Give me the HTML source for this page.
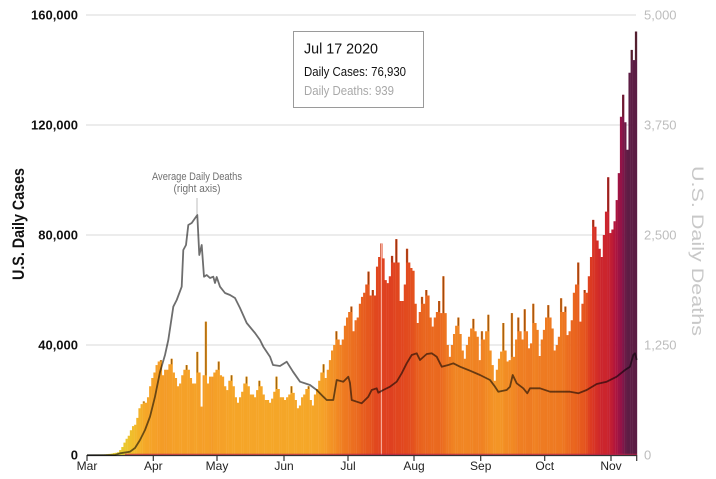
<!DOCTYPE html>
<html><head><meta charset="utf-8">
<style>
html,body{margin:0;padding:0;background:#fff;}
svg{display:block;}
text{font-family:"Liberation Sans Narrow","Liberation Sans",Arial,sans-serif;}
</style></head><body>
<svg id="c" width="716" height="479" viewBox="0 0 716 479" xmlns="http://www.w3.org/2000/svg">
<g stroke="#e6e6e6" stroke-width="1.5">
<line x1="86" y1="15" x2="636" y2="15"/>
<line x1="86" y1="125" x2="636" y2="125"/>
<line x1="86" y1="235" x2="636" y2="235"/>
<line x1="86" y1="345" x2="636" y2="345"/>
</g>
<g id="bars"></g>
<g id="ov"></g>
<line x1="87" y1="455.5" x2="637" y2="455.5" stroke="#333" stroke-width="1.2"/>
<line x1="125" y1="454.3" x2="637" y2="454.3" stroke="#b8254a" stroke-width="1.2" opacity="0.8"/>
<g stroke="#333" stroke-width="1.2">
<line x1="87" y1="455" x2="87" y2="461"/>
<line x1="153.3" y1="455" x2="153.3" y2="461"/>
<line x1="217" y1="455" x2="217" y2="461"/>
<line x1="284" y1="455" x2="284" y2="461"/>
<line x1="348" y1="455" x2="348" y2="461"/>
<line x1="414" y1="455" x2="414" y2="461"/>
<line x1="480.7" y1="455" x2="480.7" y2="461"/>
<line x1="544.7" y1="455" x2="544.7" y2="461"/>
<line x1="611" y1="455" x2="611" y2="461"/>
<line x1="636.7" y1="455" x2="636.7" y2="461"/>
</g>
<polyline style="mix-blend-mode:multiply" fill="none" stroke="#6e6e6e" stroke-width="1.8" stroke-linejoin="round" points="87,455 115,455 120,453.3 130,451.7 135,448 140,440 145,430 150,416.7 155,396.7 160,372 165,355 168.3,340 173.3,306.7 176.7,300 181.7,286.7 183.3,250 186,245 188.3,225 191.7,223 197.3,215 199.3,255 201.7,245 204,276.7 206.7,275 210,278 213.3,276.7 215,283 216.7,277 220,286.7 225,293 230,295 235,298 240,308 246.7,323 255,333 260,340 263.3,346.7 270,356.7 273,365 280,366 286.7,361.7 293,371.7 300,381.7 310,385 316.7,390 323.3,396.7 326.7,400 333.3,400 336.7,380 343.3,381.7 348.3,376.7 350,383 351.7,400 356.7,401.7 361.7,403.3 368.3,396.7 371.7,390 376.7,388.3 378.3,392.7 383.3,390 390,386.7 396.7,381.7 401.7,373.3 406.7,363.3 411.7,355 416.7,353.3 420,360 426.7,354 431.7,353.3 436.7,356.7 441.7,366.7 448.3,365 453.3,363.3 460,366.7 470,370.7 480,375 490,380 495,386.7 498.3,391.7 506.7,390 510,386.7 512.7,375 516.7,383.3 523.3,388.3 527.3,393.3 530,388.3 540,388.3 550,391.7 560,391.7 570,391.7 578.3,393.3 586.7,390 596.7,384 606.7,381.7 616.7,376.7 625,370 630,366.7 633.3,355 635,353.3 636.7,360"/>
<g font-size="13" font-weight="bold" fill="#111" text-anchor="end">
<text x="78" y="19.5">160,000</text>
<text x="78" y="129.5">120,000</text>
<text x="78" y="239.5">80,000</text>
<text x="78" y="349.5">40,000</text>
<text x="78" y="459.5">0</text>
</g>
<g font-size="13" fill="#bdbdbd">
<text x="644" y="19.5">5,000</text>
<text x="644" y="129.5">3,750</text>
<text x="644" y="239.5">2,500</text>
<text x="644" y="349.5">1,250</text>
<text x="644" y="459.5">0</text>
</g>
<g font-size="12" fill="#222" text-anchor="middle">
<text x="87" y="470">Mar</text>
<text x="153.3" y="470">Apr</text>
<text x="217" y="470">May</text>
<text x="284" y="470">Jun</text>
<text x="348" y="470">Jul</text>
<text x="414" y="470">Aug</text>
<text x="480.7" y="470">Sep</text>
<text x="544.7" y="470">Oct</text>
<text x="611" y="470">Nov</text>
</g>
<text transform="translate(24,224) rotate(-90)" text-anchor="middle" font-size="17" font-weight="bold" fill="#111" textLength="112" lengthAdjust="spacingAndGlyphs">U.S. Daily Cases</text>
<text transform="translate(692,251) rotate(90)" text-anchor="middle" font-size="17" fill="#c8c8c8" textLength="170" lengthAdjust="spacingAndGlyphs">U.S. Daily Deaths</text>
<line x1="197" y1="198" x2="197" y2="214" stroke="#c8c8c8" stroke-width="1.2"/>
<text x="197" y="180" text-anchor="middle" font-size="11" fill="#707070" textLength="90" lengthAdjust="spacingAndGlyphs">Average Daily Deaths</text>
<text x="197" y="192" text-anchor="middle" font-size="11" fill="#707070" textLength="47" lengthAdjust="spacingAndGlyphs">(right axis)</text>
<rect x="293.5" y="31.5" width="130" height="76" fill="#fff" stroke="#9a9a9a" stroke-width="1"/>
<text x="304" y="53.5" font-size="15" fill="#111" textLength="74" lengthAdjust="spacingAndGlyphs">Jul 17 2020</text>
<text x="304" y="76" font-size="13" fill="#111" textLength="102" lengthAdjust="spacingAndGlyphs">Daily Cases: 76,930</text>
<text x="304" y="95" font-size="13" fill="#a8a8a8" textLength="90" lengthAdjust="spacingAndGlyphs">Daily Deaths: 939</text>
</svg>
<script>
(function(){
var v=[0.01,0.02,0.02,0.03,0.05,0.06,0.08,0.1,0.12,0.2,0.3,0.4,0.5,0.7,0.8,1.0,1.8,2.9,4.5,5.9,7.0,9.0,10.5,11,13.5,17,18.5,19.5,19,21,25,
28,30,32.7,34,34.5,29,31,31,33,35,30,28,25,26,29,31,32.7,31,28,26,26,37.5,30,17.6,29,48.5,26,28.5,28.5,30,
31,34,29,28.5,25,23.6,27,29,25,21,19,21,23,26,28.5,25,22,22,21,23.6,27,25,22,20,20,19,20.5,23,28.5,24,21,
21,20,21,22,25,22.6,20,17,18,21,22,24,25,20,18,22,24,27,30,33,28,31,34.5,38,40,45,42,40,42,47,
50,52,54,45,49,50,55,57.5,59,62,66.7,58,60,58,68.5,72,76.93,71.5,63.6,62.5,65,72.4,70,78.5,70,56,56,62,75,70,68,
67,55,48,52,57.5,55,60,58,50,46.7,50,52,56,51.6,65,51.6,40,35.7,40,44,47,50,44,38,35,40,43,46,49.5,45,43,
34.5,45,42,45,51,38,32.7,27,31,35,37.6,48,38,34,34.5,51.6,35.7,42,50,45,42,53,45,38.8,40.6,55,48,45.5,36,42,
45.5,50,54.5,50,46,38,40,43,57,52,54,43.6,45,49,59,62,70,48.5,55,60,59,65,72,85.5,83,78,75,72,80,88.5,
101,80.7,82,85,92.7,102.5,123,131,121,111,139,147.3,143.6,154];
var stops=[[0,[230,208,50]],[12,[242,185,42]],[20,[245,168,40]],[30,[245,160,40]],[40,[242,140,36]],[50,[236,112,32]],[60,[230,88,30]],[70,[222,62,32]],[80,[208,40,42]],[95,[180,22,60]],[112,[142,18,73]],[130,[94,29,69]],[200,[80,30,64]]];
function col(k){
 for(var i=0;i<stops.length-1;i++){
  var a=stops[i],b=stops[i+1];
  if(k<=b[0]){var t=(k-a[0])/(b[0]-a[0]);if(t<0)t=0;
   var c=[0,1,2].map(function(j){return Math.round(a[1][j]+(b[1][j]-a[1][j])*t);});
   return 'rgb('+c.join(',')+')';}
 }
 return 'rgb(80,30,64)';
}
var K=2.75,html='',ov='';
for(var d=0;d<v.length;d++){
 var s=0,n=0;
 for(var j=d-3;j<=d+3;j++){if(j>=0&&j<v.length){s+=v[j];n++;}}
 var a=s/n,h=v[d]*K,x=87+2.14*d-2.1;
 html+='<rect x="'+x.toFixed(2)+'" y="'+(455-h).toFixed(2)+'" width="2.3" height="'+h.toFixed(2)+'" fill="'+col(a)+'"/>';
 var l=d>0?v[d-1]:0,r=d<v.length-1?v[d+1]:0,m=Math.max(l,r);
 if(v[d]>m&&v[d]>3){
  ov+='<rect x="'+(x+0.5).toFixed(2)+'" y="'+(455-h).toFixed(2)+'" width="1.2" height="'+((v[d]-m)*K).toFixed(2)+'" fill="rgba(70,40,0,0.5)"/>';
 }
}
var hx=87+2.14*138-1.4;
ov+='<rect x="'+hx.toFixed(2)+'" y="'+(455-76.93*K).toFixed(2)+'" width="1.1" height="'+(76.93*K).toFixed(2)+'" fill="#f7a898"/>';
document.getElementById('bars').innerHTML=html;
document.getElementById('ov').innerHTML=ov;
})();
</script>
</body></html>
